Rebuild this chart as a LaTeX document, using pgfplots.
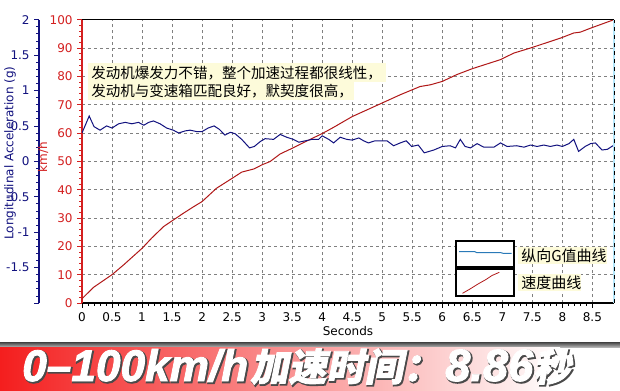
\documentclass[border=0pt]{standalone}
\usepackage{pgfplots}
\pgfplotsset{compat=1.18}
\usepackage{pgfplotstable}
\usepackage{graphicx}
\usepackage{fontspec}
\setmainfont{DejaVu Sans}
\newfontfamily\cjk{Noto Sans CJK SC}
\newfontfamily\cjkbanA[FakeSlant=0.2, FakeBold=2]{Noto Sans CJK SC}
\newfontfamily\cjkbanB[FakeSlant=0.2, FakeBold=5]{Noto Sans CJK SC}
\newfontfamily\latbanA[FakeBold=2]{Liberation Sans}
\newfontfamily\latbanB[FakeBold=5]{Liberation Sans}
\definecolor{axred}{HTML}{D42020}
\definecolor{curvered}{HTML}{B01818}
\definecolor{navyb}{HTML}{12127F}
\definecolor{legblue}{HTML}{2A7AB8}
\definecolor{glow}{HTML}{FDFBDA}
\definecolor{banred}{HTML}{F41E1E}
\definecolor{outl}{HTML}{4A4A4A}

\pgfplotstableread{
t v
0.00 1.5
0.19 5.5
0.50 10.0
0.69 13.4
1.00 19.3
1.16 22.9
1.36 27.0
1.50 29.0
1.69 31.7
1.86 34.0
2.00 35.8
2.24 40.5
2.50 44.0
2.66 46.2
2.86 47.3
3.00 48.8
3.13 49.9
3.30 52.6
3.47 54.3
3.63 56.0
4.00 59.8
4.19 62.0
4.50 65.8
5.00 70.6
5.30 73.5
5.63 76.4
5.80 77.0
6.00 78.2
6.24 80.6
6.50 82.7
6.97 85.9
7.19 88.2
7.47 90.0
7.97 93.5
8.19 95.3
8.30 95.6
8.47 97.0
8.86 100.0
}\speeddata

\pgfplotstableread{
t g
0.00 0.40
0.12 0.64
0.20 0.49
0.30 0.44
0.41 0.50
0.50 0.47
0.61 0.53
0.72 0.55
0.83 0.53
0.94 0.55
1.03 0.51
1.11 0.55
1.19 0.57
1.30 0.53
1.41 0.47
1.52 0.44
1.61 0.40
1.72 0.43
1.80 0.44
1.91 0.42
2.00 0.42
2.10 0.47
2.20 0.50
2.29 0.45
2.38 0.37
2.47 0.41
2.55 0.39
2.66 0.31
2.79 0.19
2.87 0.21
2.97 0.28
3.05 0.32
3.19 0.31
3.30 0.38
3.41 0.34
3.52 0.31
3.61 0.27
3.72 0.29
3.83 0.31
3.94 0.31
4.00 0.36
4.11 0.31
4.19 0.26
4.30 0.34
4.41 0.31
4.50 0.30
4.61 0.33
4.69 0.29
4.77 0.26
4.88 0.29
5.08 0.29
5.19 0.22
5.30 0.26
5.40 0.29
5.49 0.21
5.60 0.23
5.70 0.12
5.86 0.16
6.00 0.21
6.13 0.22
6.22 0.19
6.30 0.31
6.38 0.21
6.47 0.19
6.58 0.25
6.69 0.20
6.86 0.20
6.97 0.26
7.08 0.21
7.24 0.22
7.36 0.20
7.47 0.23
7.58 0.21
7.69 0.23
7.80 0.21
7.91 0.23
8.00 0.21
8.11 0.25
8.19 0.31
8.27 0.14
8.38 0.21
8.47 0.25
8.55 0.26
8.66 0.16
8.75 0.17
8.86 0.23
}\gdata

\newcommand\tickfont{\fontsize{9}{10.8}\selectfont}
% #1 x, #2 width, #3 outline font, #4 fill font, #5 text
\newcommand\bantext[5]{%
  \node[anchor=base west, inner sep=0, text=outl] at (#1+1.2, 9-1.2) {\resizebox{#2}{!}{#3#5}};
  \node[anchor=base west, inner sep=0, text=white] at (#1, 9) {\resizebox{#2}{!}{#4#5}};
}

\begin{document}
\begin{tikzpicture}
\useasboundingbox (0,0) rectangle (465pt,292.5pt);
\fill[white] (0,0) rectangle (465pt,292.5pt);

% main speed axis
\begin{axis}[
  at={(61.5pt,65.25pt)}, anchor=south west,
  scale only axis, width=399pt, height=212.5pt,
  xmin=0, xmax=8.86, ymin=0, ymax=100,
  axis x line*=bottom, axis y line*=left,
  x axis line style={black, line width=2pt, -},
  y axis line style={axred, line width=1.6pt, -},
  xtick={0,0.5,1,1.5,2,2.5,3,3.5,4,4.5,5,5.5,6,6.5,7,7.5,8,8.5},
  xticklabels={0,0.5,1,1.5,2,2.5,3,3.5,4,4.5,5,5.5,6,6.5,7,7.5,8,8.5},
  minor x tick num=4,
  ytick={0,10,20,30,40,50,60,70,80,90,100},
  yticklabels={0,10,20,30,40,50,60,70,80,90,100},
  minor y tick num=4,
  tick align=outside,
  major tick length=3.5pt, minor tick length=2pt,
  xtick style={black, line width=0.6pt},
  ytick style={axred, line width=0.6pt},
  xticklabel style={font=\tickfont, text=black},
  yticklabel style={font=\tickfont, text=axred},
  grid=major,
  major grid style={gray, line width=0.6pt, dash pattern=on 2.25pt off 2.25pt},
  xlabel={Seconds}, xlabel style={font=\tickfont, yshift=3pt},
  clip=false,
]
\addplot[curvered, line width=0.75pt] table[x=t, y=v] {\speeddata};
\end{axis}

% G curve overlay
\begin{axis}[
  at={(61.5pt,65.25pt)}, anchor=south west,
  scale only axis, width=399pt, height=212.5pt,
  xmin=0, xmax=8.86, ymin=-2, ymax=2,
  hide axis,
]
\addplot[navyb, line width=0.75pt] table[x=t, y=g] {\gdata};
\end{axis}

% blue G scale
\begin{axis}[
  at={(29.25pt,65.25pt)}, anchor=south west,
  scale only axis, width=1pt, height=212.5pt,
  xmin=0, xmax=1, ymin=-2, ymax=2,
  hide x axis, axis y line=left,
  y axis line style={navyb, line width=2pt, -},
  ytick={-2,-1.5,-1,-0.5,0,0.5,1,1.5,2},
  yticklabels={,-1.5,-1,-0.5,0,0.5,1,1.5,2},
  minor y tick num=4, tick align=outside,
  major tick length=3.5pt, minor tick length=2pt,
  ytick style={navyb, line width=0.6pt},
  yticklabel style={font=\tickfont, text=navyb},
]
\end{axis}

\begin{scope}[x=0.75pt, y=0.75pt]
  % borders
  \draw[black, line width=0.75pt] (82,370) -- (614,370);
  \draw[cyan!30, line width=2pt] (614,87) -- (614,370);
  \draw[black, line width=0.75pt, dash pattern=on 3 off 3] (614,87) -- (614,370);
  % axis titles
  \node[rotate=90, text=navyb, font=\tickfont] at (10,237) {Longitudinal Acceleration (g)};
  \node[rotate=90, text=axred, font=\tickfont] at (43,233) {km/h};
  % annotation
  \fill[glow] (88,308) rectangle (386,327);
  \fill[glow] (88,290) rectangle (354,308);
  \node[anchor=west, inner sep=0, font=\cjk\fontsize{10.9}{12}\selectfont] at (91,317) {发动机爆发力不错，整个加速过程都很线性，};
  \node[anchor=west, inner sep=0, font=\cjk\fontsize{10.9}{12}\selectfont] at (91,299) {发动机与变速箱匹配良好，默契度很高，};
  % legend
  \fill[white] (456,94) rectangle (514,149);
  \draw[black, line width=1.5pt] (456,123) rectangle (514,149);
  \draw[black, line width=1.5pt] (456,94) rectangle (514,121);
  \draw[legblue, line width=0.75pt] (459,138.3) -- (475,138.3) -- (477,137.3) -- (501,137.3) -- (503,136.7) -- (511.5,136.7);
  \draw[curvered, line width=0.6pt] (462.5,96.7) -- (470,101) -- (478,106) -- (486,110.5) -- (492,114.5) -- (499.3,117.7);
  \fill[glow] (518,126) rectangle (607,143);
  \fill[glow] (518,99) rectangle (581,116);
  \node[anchor=west, inner sep=0, font=\cjk\fontsize{11.25}{12}\selectfont] at (521,134) {纵向G值曲线};
  \node[anchor=west, inner sep=0, font=\cjk\fontsize{11.25}{12}\selectfont] at (521,107) {速度曲线};
  % banner
  \shade[top color=black!75, bottom color=black!30] (0,43) rectangle (620,48);
  \shade[left color=banred, right color=white] (0,0) rectangle (560,43);
  \bantext{22}{169.5pt}{\latbanB\bfseries\itshape}{\latbanA\bfseries\itshape}{0–100km/h}
  \bantext{250}{143pt}{\cjkbanB\bfseries}{\cjkbanA\bfseries}{加速时间：}
  \bantext{445}{66pt}{\latbanB\bfseries\itshape}{\latbanA\bfseries\itshape}{8.86}
  \bantext{533}{28pt}{\cjkbanB\bfseries}{\cjkbanA\bfseries}{秒}
\end{scope}
\end{tikzpicture}
\end{document}
